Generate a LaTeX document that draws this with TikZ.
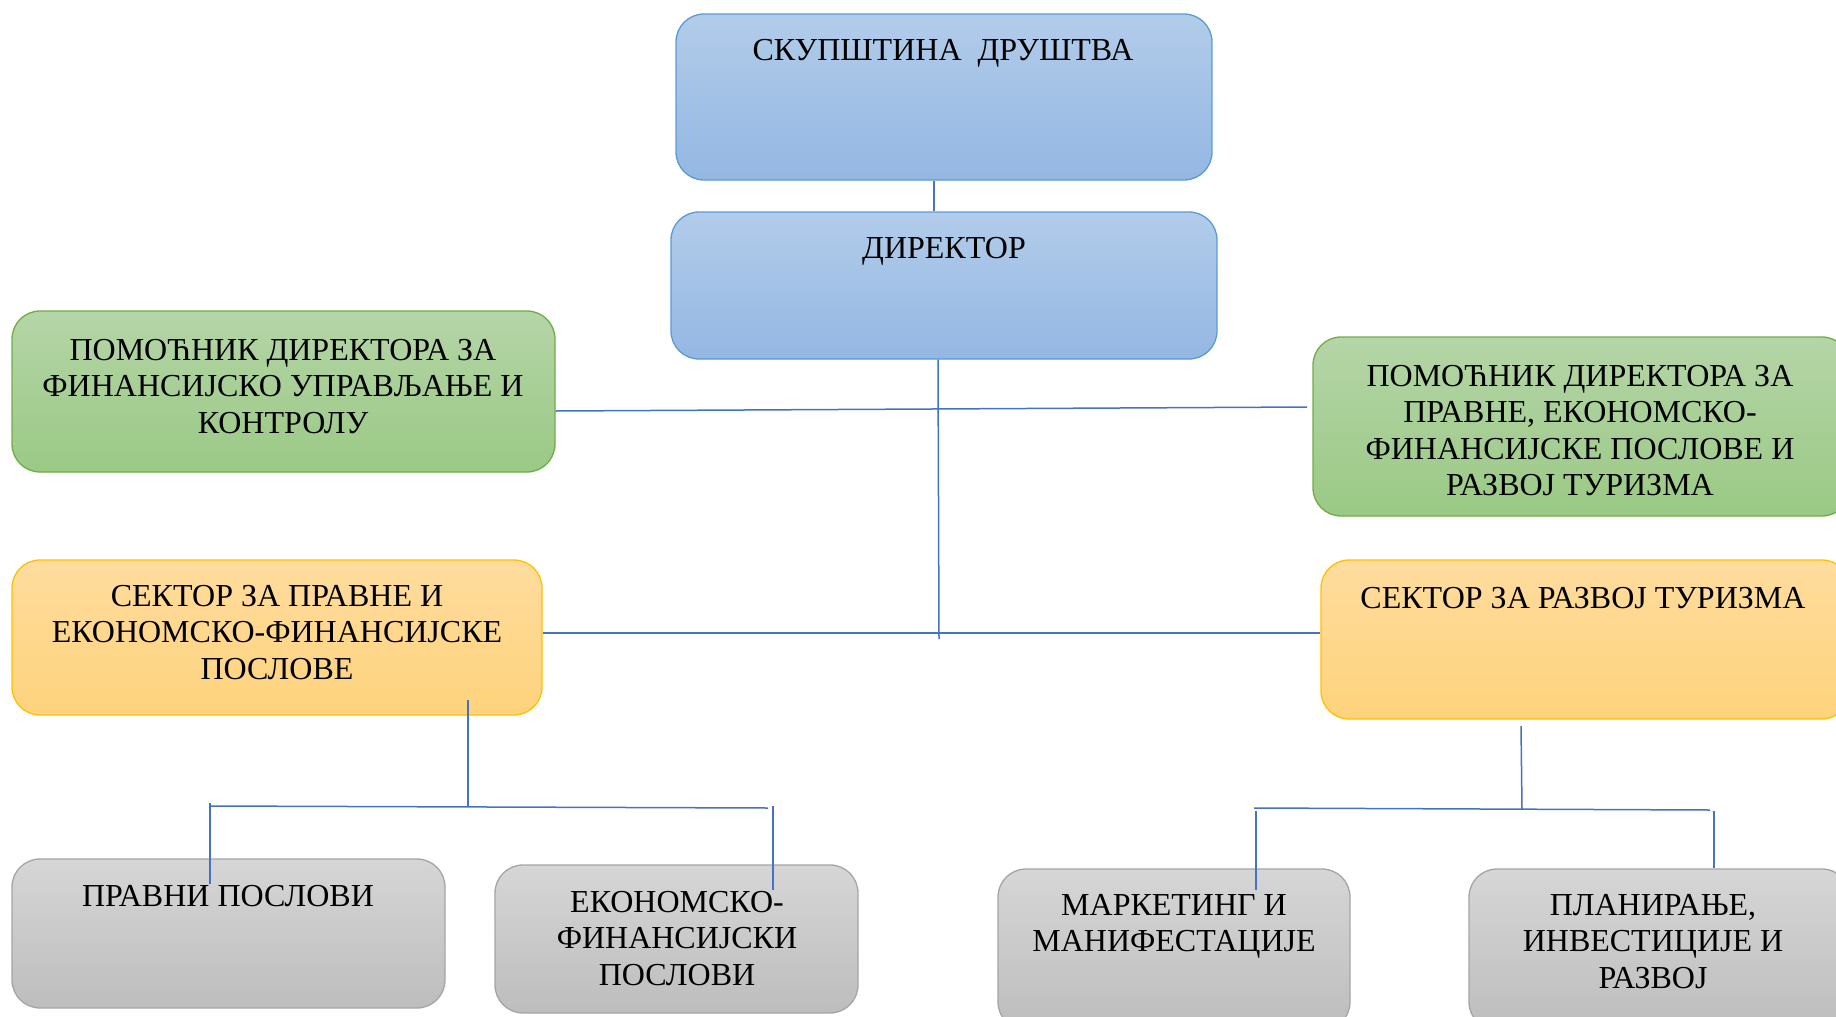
\documentclass[tikz,border=0pt]{standalone}
\usepackage{fontspec}
\setmainfont{Liberation Serif}
\definecolor{bluetop}{HTML}{B2CCEA}
\definecolor{bluebot}{HTML}{94B7E3}
\definecolor{blueedge}{HTML}{5B9BD5}
\definecolor{greentop}{HTML}{B5D5A7}
\definecolor{greenbot}{HTML}{9AC985}
\definecolor{greenedge}{HTML}{70AD47}
\definecolor{orangetop}{HTML}{FFDC9E}
\definecolor{orangebot}{HTML}{FED37C}
\definecolor{orangeedge}{HTML}{FFC000}
\definecolor{greytop}{HTML}{D6D6D6}
\definecolor{greybot}{HTML}{BDBDBD}
\definecolor{greyedge}{HTML}{A5A5A5}
\definecolor{linkcol}{HTML}{4472C4}
\newcommand{\mylines}[1]{\begin{tabular}[t]{@{}c@{}}#1\end{tabular}}
\begin{document}
\begin{tikzpicture}[x=1pt,y=-1pt,
  boxbase/.style={draw, rounded corners=28pt, inner sep=0pt, line width=1.3pt},
  bluebox/.style={boxbase, draw=blueedge, top color=bluetop, bottom color=bluebot},
  greenbox/.style={boxbase, draw=greenedge, top color=greentop, bottom color=greenbot},
  orangebox/.style={boxbase, draw=orangeedge, top color=orangetop, bottom color=orangebot},
  greybox/.style={boxbase, draw=greyedge, top color=greytop, bottom color=greybot},
  txt/.style={anchor=base, inner sep=0pt, font=\fontsize{32}{36.6}\selectfont},
  link/.style={draw=linkcol, line width=1.5pt}
]
\useasboundingbox (0,0) rectangle (1836,1017);
\clip (0,0) rectangle (1836,1017);

% boxes
\node[bluebox, minimum width=536pt, minimum height=166pt] (skup) at (944,97) {};
\node[bluebox, minimum width=546pt, minimum height=147pt] (dir) at (944,285.5) {};
\node[greenbox, minimum width=543pt, minimum height=161pt] (g1) at (283.5,391.5) {};
\node[greenbox, minimum width=537pt, minimum height=179pt] (g2) at (1581.5,426.5) {};
\node[orangebox, minimum width=530pt, minimum height=155pt] (o1) at (277,637.5) {};
\node[orangebox, minimum width=529pt, minimum height=159pt] (o2) at (1585.5,639.5) {};
\node[greybox, minimum width=433pt, minimum height=149pt] (gr1) at (228.5,933.5) {};
\node[greybox, minimum width=363pt, minimum height=148pt] (gr2) at (676.5,939) {};
\node[greybox, minimum width=352pt, minimum height=161pt] (gr3) at (1174,949.5) {};
\node[greybox, minimum width=381pt, minimum height=161pt] (gr4) at (1659.5,949.5) {};

% connector junctions
\coordinate (hub) at (939,639);
\coordinate (g2in) at (1307,407);
\coordinate (lsTop) at (468,700);
\coordinate (lsMid) at (468,807);
\coordinate (lbL) at (211,806);
\coordinate (lbR) at (768,808);
\coordinate (llTop) at (210,803);
\coordinate (llEnd) at (210,884);
\coordinate (lrTop) at (773,806);
\coordinate (lrEnd) at (773,890);
\coordinate (rsTop) at (1521,726);
\coordinate (rsMid) at (1522,809);
\coordinate (rbL) at (1254,808);
\coordinate (rbR) at (1710,810);
\coordinate (rlTop) at (1256,811);
\coordinate (rlEnd) at (1256,890);
\coordinate (rrTop) at (1714,811);

% connectors
\draw[link] ([xshift=-10pt]skup.south) -- ([xshift=-10pt]dir.north);
\draw[link] ([xshift=-6pt]dir.south) -- (hub);
\draw[link] ([yshift=-19.5pt]g1.east) -- (g2in);
\draw[link] ([yshift=4.5pt]o1.east) -- ([yshift=6.5pt]o2.west);
\draw[link] (lsTop) -- (lsMid);
\draw[link] (lbL) -- (lbR);
\draw[link] (llTop) -- (llEnd);
\draw[link] (lrTop) -- (lrEnd);
\draw[link] (rsTop) -- (rsMid);
\draw[link] (rbL) -- (rbR);
\draw[link] (rlTop) -- (rlEnd);
\draw[link] (rrTop) -- (rrTop |- gr4.north);

% texts
\node[txt] (skupT) at (943,60) {СКУПШТИНА\ \ ДРУШТВА};
\node[txt] (dirT) at (944,258) {ДИРЕКТОР};
\node[txt] (g1T) at (283,360) {\mylines{ПОМОЋНИК ДИРЕКТОРА ЗА\\ФИНАНСИЈСКО УПРАВЉАЊЕ И\\КОНТРОЛУ}};
\node[txt] (g2T) at (1580,386) {\mylines{ПОМОЋНИК ДИРЕКТОРА ЗА\\ПРАВНЕ, ЕКОНОМСКО-\\ФИНАНСИЈСКЕ ПОСЛОВЕ И\\РАЗВОЈ ТУРИЗМА}};
\node[txt] (o1T) at (277,606) {\mylines{СЕКТОР ЗА ПРАВНЕ И\\ЕКОНОМСКО-ФИНАНСИЈСКЕ\\ПОСЛОВЕ}};
\node[txt] (o2T) at (1583,608) {СЕКТОР ЗА РАЗВОЈ ТУРИЗМА};
\node[txt] (gr1T) at (228,906) {ПРАВНИ ПОСЛОВИ};
\node[txt] (gr2T) at (677,912) {\mylines{ЕКОНОМСКО-\\ФИНАНСИЈСКИ\\ПОСЛОВИ}};
\node[txt] (gr3T) at (1174,915) {\mylines{МАРКЕТИНГ И\\МАНИФЕСТАЦИЈЕ}};
\node[txt] (gr4T) at (1653,915) {\mylines{ПЛАНИРАЊЕ,\\ИНВЕСТИЦИЈЕ И\\РАЗВОЈ}};
\end{tikzpicture}
\end{document}
